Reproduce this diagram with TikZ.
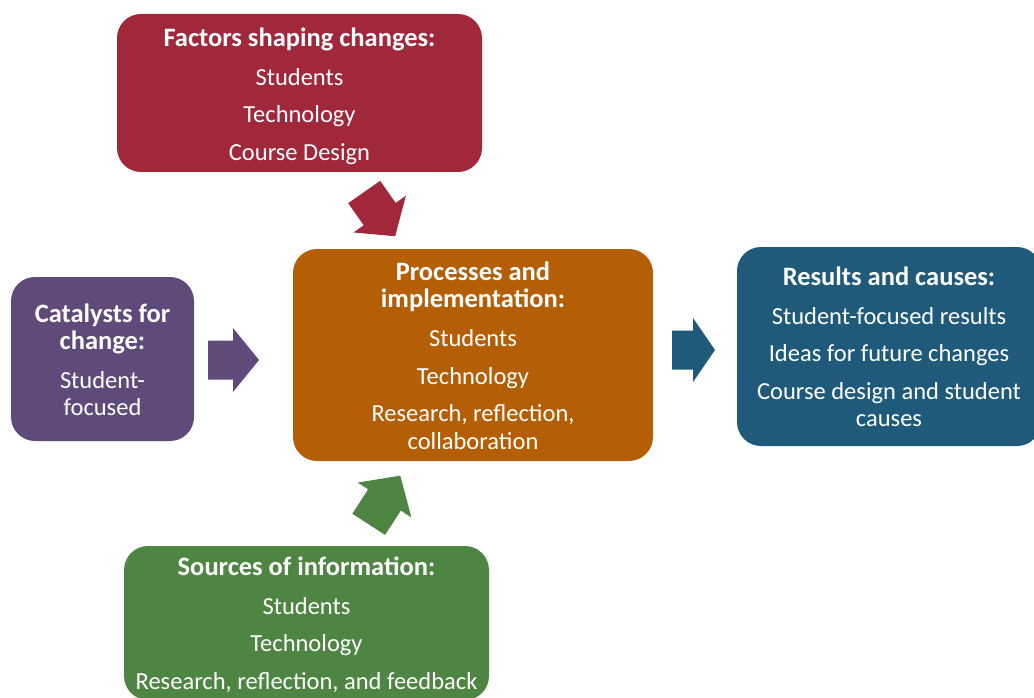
\documentclass[tikz,border=0pt]{standalone}
\usepackage{fontspec}
\setmainfont{Carlito}
\definecolor{factorred}{HTML}{A0283A}
\definecolor{catpurple}{HTML}{5F4A7A}
\definecolor{procorange}{HTML}{B45F06}
\definecolor{resblue}{HTML}{1F5A7A}
\definecolor{srcgreen}{HTML}{4E8542}
\newcommand{\paneltitle}[1]{{\fontsize{26.5}{27.5}\selectfont\bfseries #1}}
\begin{document}
\begin{tikzpicture}[x=1pt,y=-1pt,
  panel/.style={rounded corners=24pt, inner sep=0pt},
  paneltext/.style={text=white, align=center, inner sep=0pt,
    font=\fontsize{24.5}{27.5}\selectfont},
  % block arrow drawn from its tail along the x axis: total length / head length
  pics/blockarrow/.style args={#1/#2}{code={
    \fill[pic actions] (0,-19.5) -- ({#1-#2},-19.5) -- ({#1-#2},-32) -- (#1,0)
      -- ({#1-#2},32) -- ({#1-#2},19.5) -- (0,19.5) -- cycle;
    \coordinate (-tip) at (#1,0);}}]
\useasboundingbox (0,0) rectangle (1034,698);
\clip (0,0) rectangle (1034,698);

% the five panels
\node[panel, fill=factorred, minimum width=365pt, minimum height=158pt] (factors) at (299.5,93) {};
\node[panel, fill=catpurple, minimum width=183pt, minimum height=164pt] (catalysts) at (102.5,359) {};
\node[panel, fill=procorange, minimum width=360pt, minimum height=212pt] (process) at (473,355) {};
\node[panel, fill=resblue, minimum width=304pt, minimum height=199pt] (results) at (889,346.5) {};
\node[panel, fill=srcgreen, minimum width=365pt, minimum height=154pt] (sources) at (306.5,623) {};

% panel texts
\node[paneltext] (factorstext) at ([yshift=-3.3pt]factors.center)
  {\paneltitle{Factors shaping changes:}\\[11.5pt] Students\\[9.5pt] Technology\\[10pt] Course Design};
\node[paneltext] (catalyststext) at ([yshift=-0.8pt]catalysts.center)
  {\paneltitle{Catalysts for}\\ \paneltitle{change:}\\[11pt] Student-\\ focused};
\node[paneltext] (processtext) at ([yshift=-0.3pt]process.center)
  {\paneltitle{Processes and}\\ \paneltitle{implementation:}\\[11.5pt] Students\\[10.5pt] Technology\\[9.5pt] Research, reflection,\\ collaboration};
\node[paneltext] (resultstext) at ([yshift=-0.5pt]results.center)
  {\paneltitle{Results and causes:}\\[11pt] Student-focused results\\[10pt] Ideas for future changes\\[10pt] Course design and student\\ causes};
\node[paneltext] (sourcestext) at ([yshift=-1.5pt]sources.center)
  {\paneltitle{Sources of information:}\\[11pt] Students\\[10pt] Technology\\[10pt] Research, reflection, and feedback};

% block arrows feeding the central panel
\coordinate (tfactors) at (364.2,192);
\coordinate (tcatalysts) at (208,360);
\coordinate (tprocess) at (672,350);
\coordinate (tsources) at (368.7,524.3);
\pic[fill=factorred, rotate=-55] (afactors) at (tfactors) {blockarrow=54/27};
\pic[fill=catpurple] (acatalysts) at (tcatalysts) {blockarrow=51/26};
\pic[fill=resblue] (aprocess) at (tprocess) {blockarrow=43/22};
\pic[fill=srcgreen, rotate=57] (asources) at (tsources) {blockarrow=58/29};
\end{tikzpicture}
\end{document}
